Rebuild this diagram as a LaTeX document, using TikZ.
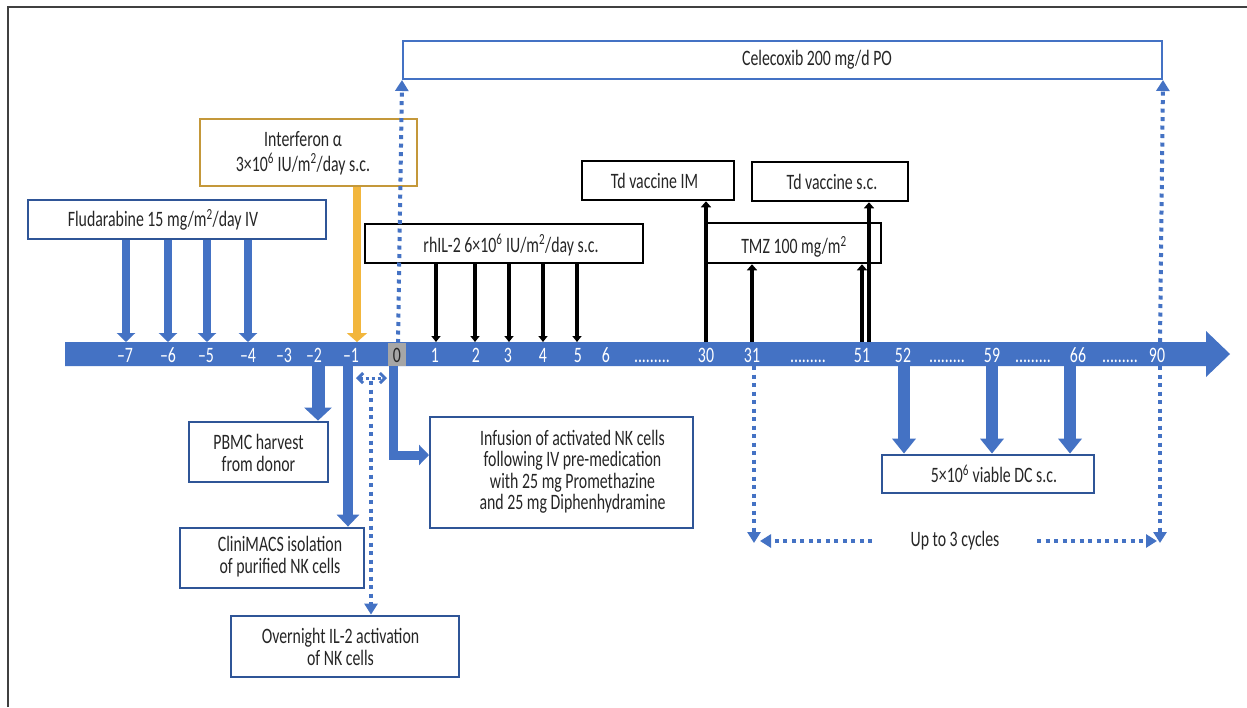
\documentclass[tikz,border=0pt]{standalone}
\usepackage{fontspec}
\setmainfont{Carlito}[FakeStretch=0.72]
\usetikzlibrary{arrows.meta}
\definecolor{bblue}{HTML}{4472C4}
\definecolor{boxblue}{HTML}{2F5597}
\definecolor{goldbox}{HTML}{C4983A}
\definecolor{orangearr}{HTML}{F2B63C}
\definecolor{tickgray}{HTML}{A6A6A6}
\definecolor{txtcol}{HTML}{262626}
\begin{document}
\begin{tikzpicture}[x=1pt,y=-1pt,
  font=\fontsize{22}{21.5}\selectfont,
  bluebox/.style={draw=boxblue,line width=2.8pt,inner sep=0pt},
  blackbox/.style={draw=black,line width=2.5pt,inner sep=0pt},
  goldbx/.style={draw=goldbox,line width=2.5pt,inner sep=0pt},
  celbox/.style={draw=bblue,line width=2pt,inner sep=0pt},
  txt/.style={inner sep=0pt,align=center,text=txtcol},
  tick/.style={inner sep=0pt,anchor=base,text=white},
  fluarrow/.style={bblue,line width=8.5pt,-{Triangle[width=18pt,length=9pt]}},
  fatarrow/.style={bblue,line width=13pt,-{Triangle[width=27pt,length=13pt]}},
  midarrow/.style={bblue,line width=10pt,-{Triangle[width=22pt,length=12pt]}},
  infarrow/.style={bblue,line width=9pt,-{Triangle[width=20pt,length=10pt]}},
  dcarrow/.style={bblue,line width=12pt,-{Triangle[width=23pt,length=15pt]}},
  orarrow/.style={orangearr,line width=8pt,-{Triangle[width=20pt,length=9pt]}},
  blkdown/.style={black,line width=3.5pt,-{Triangle[width=9pt,length=6pt]}},
  blkup/.style={black,line width=4pt,-{Triangle[width=10pt,length=6pt]}},
  dotline/.style={bblue,line width=4pt,dash pattern=on 4pt off 4.5pt},
  dothead/.style={-{Triangle[width=13pt,length=11pt]}}
]
\useasboundingbox (0,0) rectangle (1247,707);
\fill[white] (0,0) rectangle (1247,707);
\draw[line width=1.3pt,black!75] (8,707) -- (8,7) -- (1247,7);

% ---------- boxes ----------
\node[celbox,minimum width=759pt,minimum height=38pt] (cel) at (782.5,60) {};
\node[txt] (celt) at (817,60) {Celecoxib 200 mg/d PO};

\node[goldbx,minimum width=217pt,minimum height=67pt] (ifn) at (308.5,152.5) {};
\node[txt,font=\fontsize{22}{24.5}\selectfont] (ifnt) at (303,153) {Interferon α\\3×10\textsuperscript{6} IU/m\textsuperscript{2}/day s.c.};

\node[bluebox,minimum width=298pt,minimum height=39pt] (flu) at (177,219.5) {};
\node[txt] (flut) at (163,220) {Fludarabine 15 mg/m\textsuperscript{2}/day IV};

\node[blackbox,minimum width=278pt,minimum height=39pt] (il2) at (504,243.5) {};
\node[txt] (il2t) at (511,245) {rhIL-2 6×10\textsuperscript{6} IU/m\textsuperscript{2}/day s.c.};

\node[blackbox,minimum width=152pt,minimum height=39pt] (tdim) at (658,180.5) {};
\node[txt] (tdimt) at (654.5,181) {Td vaccine IM};

\node[blackbox,minimum width=156pt,minimum height=39pt] (tdsc) at (830,181.5) {};
\node[txt] (tdsct) at (832,182) {Td vaccine s.c.};

\node[blackbox,minimum width=174pt,minimum height=40pt] (tmz) at (794,243) {};
\node[txt] (tmzt) at (794,247) {TMZ 100 mg/m\textsuperscript{2}};

\node[bluebox,minimum width=139pt,minimum height=60pt] (pbmc) at (258.5,452) {};
\node[txt] (pbmct) at (258.5,453) {PBMC harvest\\from donor};

\node[bluebox,minimum width=184pt,minimum height=60pt] (cmacs) at (272,558) {};
\node[txt] (cmacst) at (280,556.5) {CliniMACS isolation\\of purified NK cells};

\node[bluebox,minimum width=228pt,minimum height=61pt] (onight) at (345,646.5) {};
\node[txt] (onightt) at (340.5,647) {Overnight IL-2 activation\\of NK cells};

\node[bluebox,minimum width=263pt,minimum height=111pt] (inf) at (561.5,472.5) {};
\node[txt] (inft) at (572.5,471.5) {Infusion of activated NK cells\\following IV pre-medication\\with 25 mg Promethazine\\and 25 mg Diphenhydramine};

\node[bluebox,minimum width=212pt,minimum height=38pt] (dc) at (988,474) {};
\node[txt] (dct) at (994,474) {5×10\textsuperscript{6} viable DC s.c.};

\node[txt] (cyc) at (955,541) {Up to 3 cycles};

% ---------- coordinates on the bar ----------
\coordinate (zt) at (398,343);
\coordinate (nt) at (1160,342);
\coordinate (nb) at (1160,366);
\coordinate (tlb) at (754,366);
\coordinate (cycL) at (754,543);
\coordinate (cycR) at (1160,543);
\coordinate (cycLa) at (872,541);
\coordinate (cycLb) at (760,541);
\coordinate (cycRa) at (1037,541);
\coordinate (cycRb) at (1157,541);

% dotted lines behind the bar
\draw[dotline,dothead] (zt) -- (cel.south west);
\draw[dotline,dothead] (nt) -- (cel.south east);
\draw[dotline,dothead] (nb) -- (cycR);
\draw[dotline,dothead] (tlb) -- (cycL);
\draw[dotline,dothead] (cycLa) -- (cycLb);
\draw[dotline,dothead] (cycRa) -- (cycRb);

% ---------- the timeline bar ----------
\fill[bblue] (65,342) -- (1206,342) -- (1206,331) -- (1230,354) -- (1206,377) -- (1206,366) -- (65,366) -- cycle;
\node[fill=tickgray,minimum width=18pt,minimum height=23pt,inner sep=0pt] (zero) at (397,354.5) {};
\node[tick,text=txtcol] (l0) at (397,362) {0};
\node[tick] (lm7) at (125,362) {–7};
\node[tick] (lm6) at (168,362) {–6};
\node[tick] (lm5) at (206,362) {–5};
\node[tick] (lm4) at (248,362) {–4};
\node[tick] (lm3) at (284,362) {–3};
\node[tick] (lm2) at (314,362) {–2};
\node[tick] (lm1) at (351,362) {–1};
\node[tick] (l1) at (435,362) {1};
\node[tick] (l2) at (476,362) {2};
\node[tick] (l3) at (508,362) {3};
\node[tick] (l4) at (543,362) {4};
\node[tick] (l5) at (578,362) {5};
\node[tick] (l6) at (606,362) {6};
\node[tick] (d1) at (652,362) {.........};
\node[tick] (l30) at (706,362) {30};
\node[tick] (l31) at (752,362) {31};
\node[tick] (d2) at (808,362) {.........};
\node[tick] (l51) at (862,362) {51};
\node[tick] (l52) at (903,362) {52};
\node[tick] (d3) at (947,362) {.........};
\node[tick] (l59) at (992,362) {59};
\node[tick] (d4) at (1033,362) {.........};
\node[tick] (l66) at (1078,362) {66};
\node[tick] (d5) at (1120,362) {.........};
\node[tick] (l90) at (1157,362) {90};

% bar top / bottom points
\foreach \nm/\x in {a1/126,a2/168,a3/207,a4/248,ifp/357,r1/436,r2/475,r3/509,r4/543,r5/577,u30/706,u31/752,u51a/862,u51b/869}{
  \coordinate (\nm) at (\x,342);
}
\foreach \nm/\x in {bm2/318,bm1/348,b0/393,b52/904,b59/992,b66/1070}{
  \coordinate (\nm) at (\x,366);
}
\coordinate (infin) at (429,455);
\coordinate (dl) at (356,378);
\coordinate (dr) at (387,378);
\coordinate (dm) at (371,381);

% ---------- arrows ----------
\foreach \c in {a1,a2,a3,a4}{ \draw[fluarrow] (flu.south -| \c) -- (\c); }
\draw[orarrow] (ifn.south -| ifp) -- (ifp);
\foreach \c in {r1,r2,r3,r4,r5}{ \draw[blkdown] (il2.south -| \c) -- (\c); }
\draw[blkup] (u30) -- (tdim.south -| u30);
\draw[blkup] (u31) -- (tmz.south -| u31);
\draw[blkup] (u51a) -- (tmz.south -| u51a);
\draw[blkup] (u51b) -- (tdsc.south -| u51b);

\draw[fatarrow] (bm2) -- (pbmc.north -| bm2);
\draw[midarrow] (bm1) -- (cmacs.north -| bm1);
\draw[infarrow,line join=miter] (b0) |- (infin);
\foreach \c in {b52,b59,b66}{ \draw[dcarrow] (\c) -- (dc.north -| \c); }

\draw[bblue,line width=3pt,dash pattern=on 3pt off 3pt,{Straight Barb[width=10pt,length=5pt]}-{Straight Barb[width=10pt,length=5pt]}] (dl) -- (dr);
\draw[dotline,dothead] (dm) -- (onight.north -| dm);
\end{tikzpicture}
\end{document}
